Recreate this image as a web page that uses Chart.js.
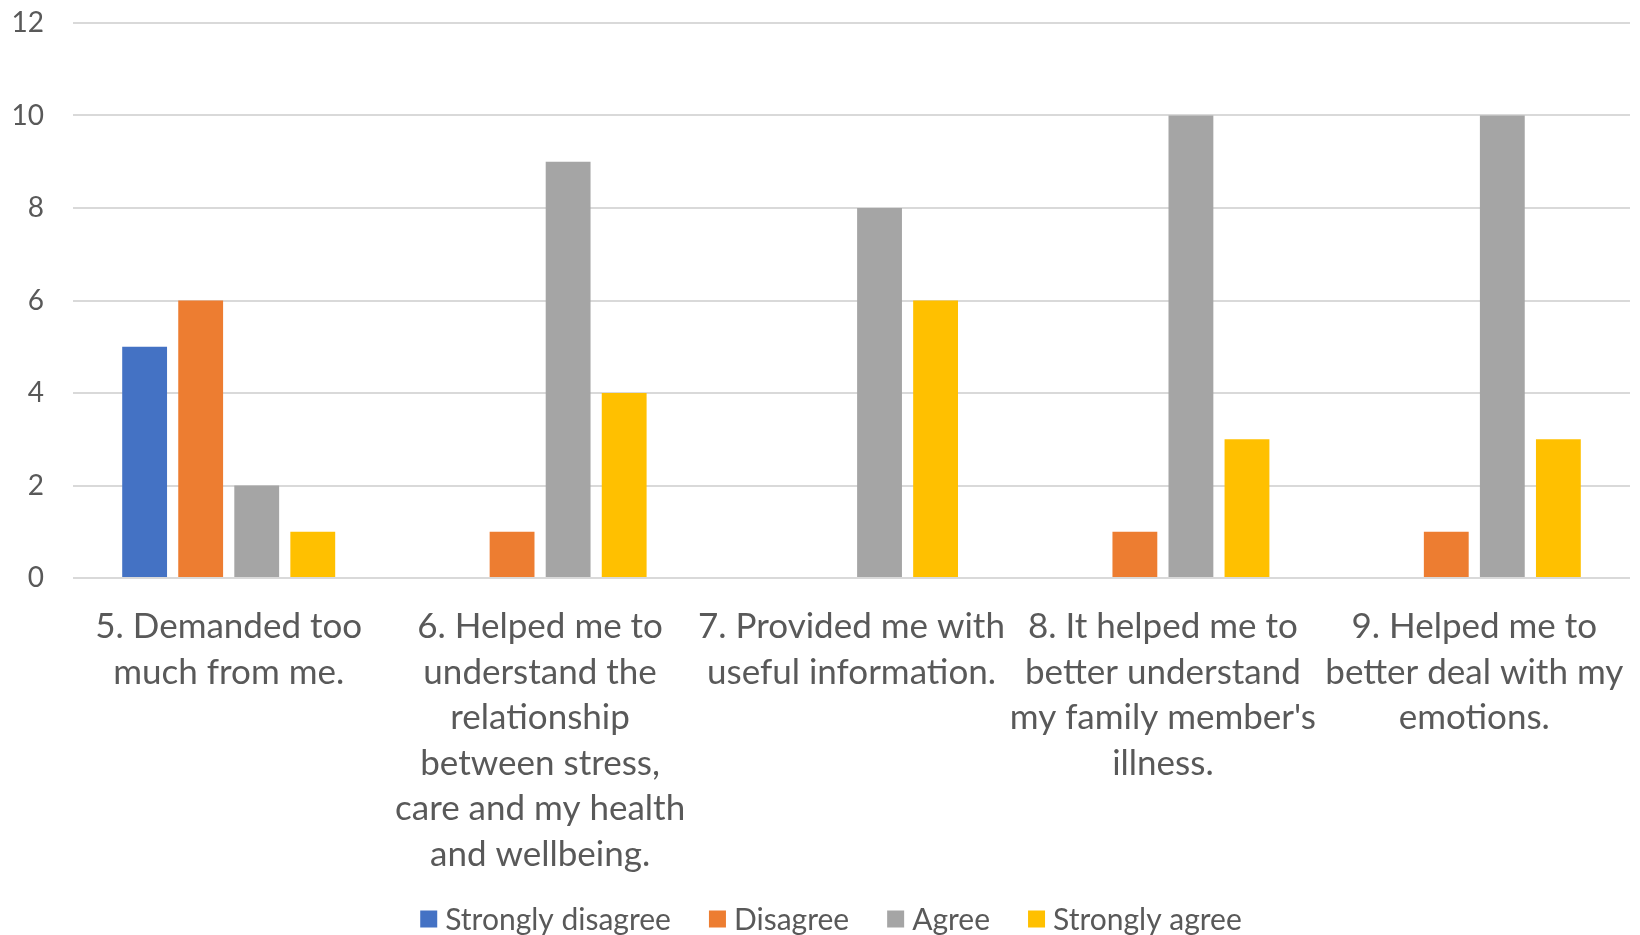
<!DOCTYPE html>
<html>
<head>
<meta charset="utf-8">
<title>Feedback on the sessions</title>
<script src="https://cdn.jsdelivr.net/npm/chart.js@4"></script>
<style>
    html, body { margin: 0; padding: 0; background: #ffffff; }
    #chart-wrap { width: 1640px; height: 935px; }
</style>
</head>
<body>
<div id="chart-wrap"><canvas id="feedback-chart"></canvas></div>
<script>
// statements, wrapped the way they appear under the axis
const categorias = [
    ['5. Demanded too', 'much from me.'],
    ['6. Helped me to', 'understand the', 'relationship', 'between stress,', 'care and my health', 'and wellbeing.'],
    ['7. Provided me with', 'useful information.'],
    ['8. It helped me to', 'better understand', "my family member's", 'illness.'],
    ['9. Helped me to', 'better deal with my', 'emotions.']
];

const stronglyDisagree = [5, 0, 0, 0, 0];
const disagree = [6, 1, 0, 1, 1];
const agree = [2, 9, 8, 10, 10];
const stronglyAgree = [1, 4, 6, 3, 3];

const yTicks = [0, 2, 4, 6, 8, 10, 12];

const fonte = 'Lato, "Open Sans", sans-serif';
const corTexto = '#595959';

// legenda desenhada à mão: caixa pequena, texto colado, itens bem espaçados
const legendaPlugin = {
    id: 'legendaInferior',
    afterDraw(chart) {
        const ctx = chart.ctx;
        const box = 17;
        const gapTexto = 8;
        const gapItem = 38;
        const y = 919;

        ctx.save();
        ctx.font = `30px ${fonte}`;
        ctx.textBaseline = 'middle';

        const itens = chart.data.datasets.map(ds => ({
            label: ds.label,
            color: ds.backgroundColor,
            w: ctx.measureText(ds.label).width
        }));
        const total = itens.reduce((s, it) => s + box + gapTexto + it.w, 0) + gapItem * (itens.length - 1);
        let x = (chart.width - total) / 2 + 11;

        itens.forEach(it => {
            ctx.fillStyle = it.color;
            ctx.fillRect(x, y - box / 2, box, box);
            x += box + gapTexto;
            ctx.fillStyle = corTexto;
            ctx.fillText(it.label, x, y + 1);
            x += it.w + gapItem;
        });
        ctx.restore();
    }
};

function renderChart() {
    const ctx = document.getElementById('feedback-chart').getContext('2d');

    const serie = (label, data, color) => ({
        label: label,
        data: data,
        backgroundColor: color,
        borderWidth: 0,
        categoryPercentage: 0.72,
        barPercentage: 0.8
    });

    new Chart(ctx, {
        type: 'bar',
        data: {
            labels: categorias,
            datasets: [
                serie('Strongly disagree', stronglyDisagree, '#4472C4'),
                serie('Disagree', disagree, '#ED7D31'),
                serie('Agree', agree, '#A5A5A5'),
                serie('Strongly agree', stronglyAgree, '#FFC000')
            ]
        },
        plugins: [legendaPlugin],
        options: {
            responsive: true,
            maintainAspectRatio: false,
            animation: false,
            layout: {
                padding: { top: 0, left: 0, right: 10, bottom: 40 }
            },
            plugins: {
                tooltip: { enabled: false },
                legend: { display: false }
            },
            scales: {
                x: {
                    grid: { display: false },
                    border: { display: false },
                    ticks: {
                        color: corTexto,
                        padding: 18,
                        maxRotation: 0,
                        autoSkip: false,
                        font: { family: fonte, size: 35, lineHeight: 1.3 }
                    },
                    afterFit: axis => {
                        axis.paddingLeft = 0;
                        axis.paddingRight = 0;
                    }
                },
                y: {
                    min: 0,
                    max: 12,
                    afterBuildTicks: axis => {
                        axis.ticks = yTicks.map(v => ({ value: v }));
                    },
                    afterFit: axis => {
                        axis.width = 73;
                        axis.paddingTop = 23;
                        axis.paddingBottom = 0;
                    },
                    grid: {
                        color: '#d9d9d9',
                        lineWidth: 2,
                        drawTicks: false
                    },
                    border: { display: false },
                    ticks: {
                        color: corTexto,
                        padding: 29,
                        font: { family: fonte, size: 28 }
                    }
                }
            }
        }
    });
}

renderChart();
</script>
</body>
</html>
